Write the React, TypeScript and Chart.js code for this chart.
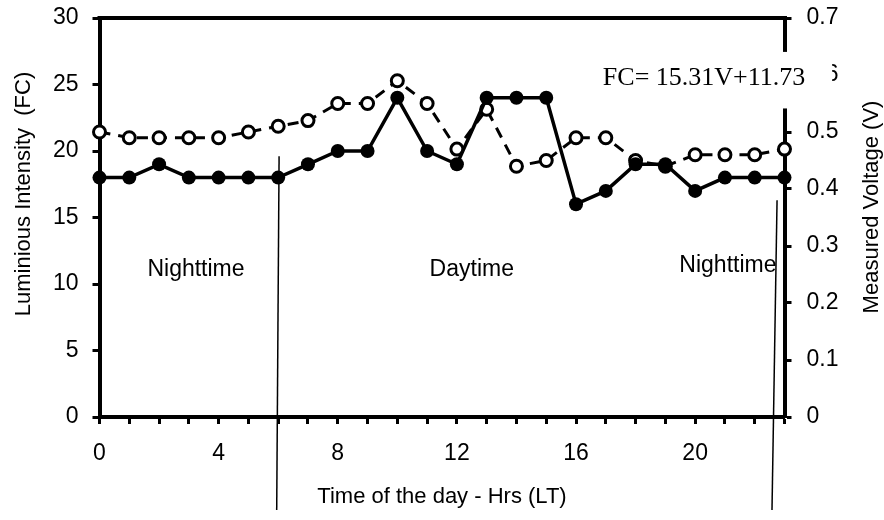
import { useEffect, useRef } from "react";
import { Chart, registerables } from "chart.js";

Chart.register(...registerables);

// ---- data ----
const hours = [0, 1, 2, 3, 4, 5, 6, 7, 8, 9, 10, 11, 12, 13, 14, 15, 16, 17, 18, 19, 20, 21, 22, 23];
const luminousFC = [18, 18, 19, 18, 18, 18, 18, 19, 20, 20, 24, 20, 19, 24, 24, 24, 16, 17, 19, 19, 17, 18, 18, 18];
const voltageV = [0.5, 0.49, 0.49, 0.49, 0.49, 0.5, 0.51, 0.52, 0.55, 0.55, 0.59, 0.55, 0.47, 0.54, 0.44, 0.45, 0.49, 0.49, 0.45, 0.44, 0.46, 0.46, 0.46, 0.47];
const fcTicks = [0, 5, 10, 15, 20, 25, 30];
const voltTicks = [0, 0.1, 0.2, 0.3, 0.4, 0.5, 0.6, 0.7];
const voltTickLabels = ["0", "0.1", "0.2", "0.3", "0.4", "0.5", "0.6", "0.7"];
const hourTickLabels = [0, 4, 8, 12, 16, 20];

// annotations (data coordinates)
const regionNames = ["Nighttime", "Daytime", "Nighttime"];
const regionHour = [3.24, 12.5, 21.1];
const regionFC = [11.05, 11.05, 11.4];
const dividerTopHour = [6.03, 22.75];
const dividerBottomHour = [5.95, 22.58];
const dividerTopFC = [19.6, 16.3];
const equationText = "FC= 15.31V+11.73";
const equationHour = 20.3;
const equationFC = 25.5;
const equationBoxHours = [16.4, 24.6];
const equationBoxFC = [27.45, 23.2];

const leftTitle = "Luminious Intensity  (FC)";
const rightTitle = "Measured Voltage (V)";
const bottomTitle = "Time of the day - Hrs (LT)";

const SANS = '"Liberation Sans", Arial, sans-serif';
const SERIF = '"Liberation Serif", "Times New Roman", serif';

const annotations = {
  id: "annotations",
  afterDatasetsDraw(chart: any) {
    const { ctx, scales } = chart;
    const x = scales.x;
    const y = scales.y;
    ctx.save();
    ctx.strokeStyle = "#000";
    ctx.lineWidth = 1.5;
    dividerTopHour.forEach((h, i) => {
      ctx.beginPath();
      ctx.moveTo(x.getPixelForValue(h), y.getPixelForValue(dividerTopFC[i]));
      ctx.lineTo(x.getPixelForValue(dividerBottomHour[i]), chart.height - 10);
      ctx.stroke();
    });
    ctx.fillStyle = "#000";
    ctx.font = `23px ${SANS}`;
    ctx.textAlign = "center";
    ctx.textBaseline = "middle";
    regionNames.forEach((name, i) => {
      ctx.fillText(name, x.getPixelForValue(regionHour[i]), y.getPixelForValue(regionFC[i]));
    });
    ctx.restore();
  },
  afterDraw(chart: any) {
    const { ctx, scales, chartArea } = chart;
    const x = scales.x;
    const y = scales.y;
    ctx.save();
    // top frame line
    ctx.strokeStyle = "#000";
    ctx.lineWidth = 4;
    ctx.beginPath();
    ctx.moveTo(chartArea.left - 2, chartArea.top);
    ctx.lineTo(chartArea.right + 2, chartArea.top);
    ctx.stroke();
    // equation box
    const bx0 = x.getPixelForValue(equationBoxHours[0]);
    const bx1 = x.getPixelForValue(equationBoxHours[1]);
    const by0 = y.getPixelForValue(equationBoxFC[0]);
    const by1 = y.getPixelForValue(equationBoxFC[1]);
    ctx.fillStyle = "#fff";
    ctx.fillRect(bx0, by0, bx1 - bx0, by1 - by0);
    ctx.fillStyle = "#000";
    ctx.font = `26px ${SERIF}`;
    ctx.textAlign = "center";
    ctx.textBaseline = "middle";
    ctx.fillText(equationText, x.getPixelForValue(equationHour), y.getPixelForValue(equationFC));
    // vertical axis titles
    ctx.font = `22px ${SANS}`;
    ctx.save();
    ctx.translate(chartArea.left - 75.5, 194);
    ctx.rotate(-Math.PI / 2);
    ctx.fillText(leftTitle, 0, 0);
    ctx.restore();
    ctx.save();
    ctx.translate(chartArea.right + 87.5, 207);
    ctx.rotate(-Math.PI / 2);
    ctx.fillText(rightTitle, 0, 0);
    ctx.restore();
    ctx.restore();
  },
};

const zeroPad = (s: any) => {
  s.paddingTop = 0;
  s.paddingBottom = 0;
  s.paddingLeft = 0;
  s.paddingRight = 0;
};

export default function App() {
  const canvasRef = useRef<HTMLCanvasElement | null>(null);

  useEffect(() => {
    document.body.style.margin = "0";
    const canvas = canvasRef.current;
    if (!canvas) return;
    const chart = new Chart(canvas, {
      type: "line",
      data: {
        datasets: [
          {
            label: "Luminous Intensity (FC)",
            data: hours.map((h, i) => ({ x: h, y: luminousFC[i] })),
            yAxisID: "y",
            borderColor: "#000",
            backgroundColor: "#000",
            borderWidth: 3.5,
            pointRadius: 7,
            pointBorderWidth: 0,
            pointBackgroundColor: "#000",
            pointBorderColor: "#000",
            tension: 0,
            clip: false,
          },
          {
            label: "Measured Voltage (V)",
            data: hours.map((h, i) => ({ x: h, y: voltageV[i] })),
            yAxisID: "y1",
            borderColor: "#000",
            backgroundColor: "#fff",
            borderWidth: 3,
            borderDash: [11, 8],
            pointRadius: 6,
            pointBorderWidth: 3,
            pointBackgroundColor: "#fff",
            pointBorderColor: "#000",
            tension: 0,
            clip: false,
          },
        ],
      },
      options: {
        animation: false,
        responsive: true,
        maintainAspectRatio: false,
        layout: { padding: { top: 18, left: 0, right: 0, bottom: 0 } },
        plugins: {
          legend: { display: false },
          tooltip: { enabled: false },
          title: { display: false },
        },
        scales: {
          x: {
            type: "linear",
            position: "bottom",
            min: 0,
            max: 23,
            afterFit: (s: any) => {
              s.height = 103;
              zeroPad(s);
            },
            afterBuildTicks: (s: any) => {
              s.ticks = hours.map((v) => ({ value: v }));
            },
            ticks: {
              autoSkip: false,
              maxRotation: 0,
              padding: 16,
              color: "#000",
              font: { family: SANS, size: 23 },
              callback: (v: any) => (hourTickLabels.includes(Number(v)) ? String(v) : ""),
            },
            grid: {
              display: true,
              drawOnChartArea: false,
              drawTicks: true,
              tickLength: 7,
              tickWidth: 3,
              tickColor: "#000",
              color: "#000",
            },
            border: { display: true, color: "#000", width: 4 },
            title: {
              display: true,
              text: bottomTitle,
              color: "#000",
              font: { family: SANS, size: 22 },
              padding: { top: 0, bottom: 10 },
            },
          },
          y: {
            type: "linear",
            position: "left",
            min: 0,
            max: 30,
            afterFit: (s: any) => {
              s.width = 99.5;
              zeroPad(s);
            },
            afterBuildTicks: (s: any) => {
              s.ticks = fcTicks.map((v) => ({ value: v }));
            },
            ticks: {
              padding: 14,
              color: "#000",
              font: { family: SANS, size: 23 },
              callback: (v: any) => String(v),
            },
            grid: {
              display: true,
              drawOnChartArea: false,
              drawTicks: true,
              tickLength: 7,
              tickWidth: 3,
              tickColor: "#000",
              color: "#000",
            },
            border: { display: true, color: "#000", width: 4 },
          },
          y1: {
            type: "linear",
            position: "right",
            min: 0,
            max: 0.7,
            afterFit: (s: any) => {
              s.width = 99.5;
              zeroPad(s);
            },
            afterBuildTicks: (s: any) => {
              s.ticks = voltTicks.map((v) => ({ value: v }));
            },
            ticks: {
              padding: 15,
              color: "#000",
              font: { family: SANS, size: 23 },
              callback: (v: any) => {
                const idx = voltTicks.findIndex((t) => Math.abs(t - Number(v)) < 1e-9);
                return idx >= 0 ? voltTickLabels[idx] : "";
              },
            },
            grid: {
              display: true,
              drawOnChartArea: false,
              drawTicks: true,
              tickLength: 7,
              tickWidth: 3,
              tickColor: "#000",
              color: "#000",
            },
            border: { display: true, color: "#000", width: 4 },
          },
        },
      },
      plugins: [annotations],
    } as any);
    return () => chart.destroy();
  }, []);

  return (
    <div style={{ position: "fixed", left: 0, top: 0, width: 884, height: 520, background: "#fff" }}>
      <canvas ref={canvasRef} />
    </div>
  );
}
